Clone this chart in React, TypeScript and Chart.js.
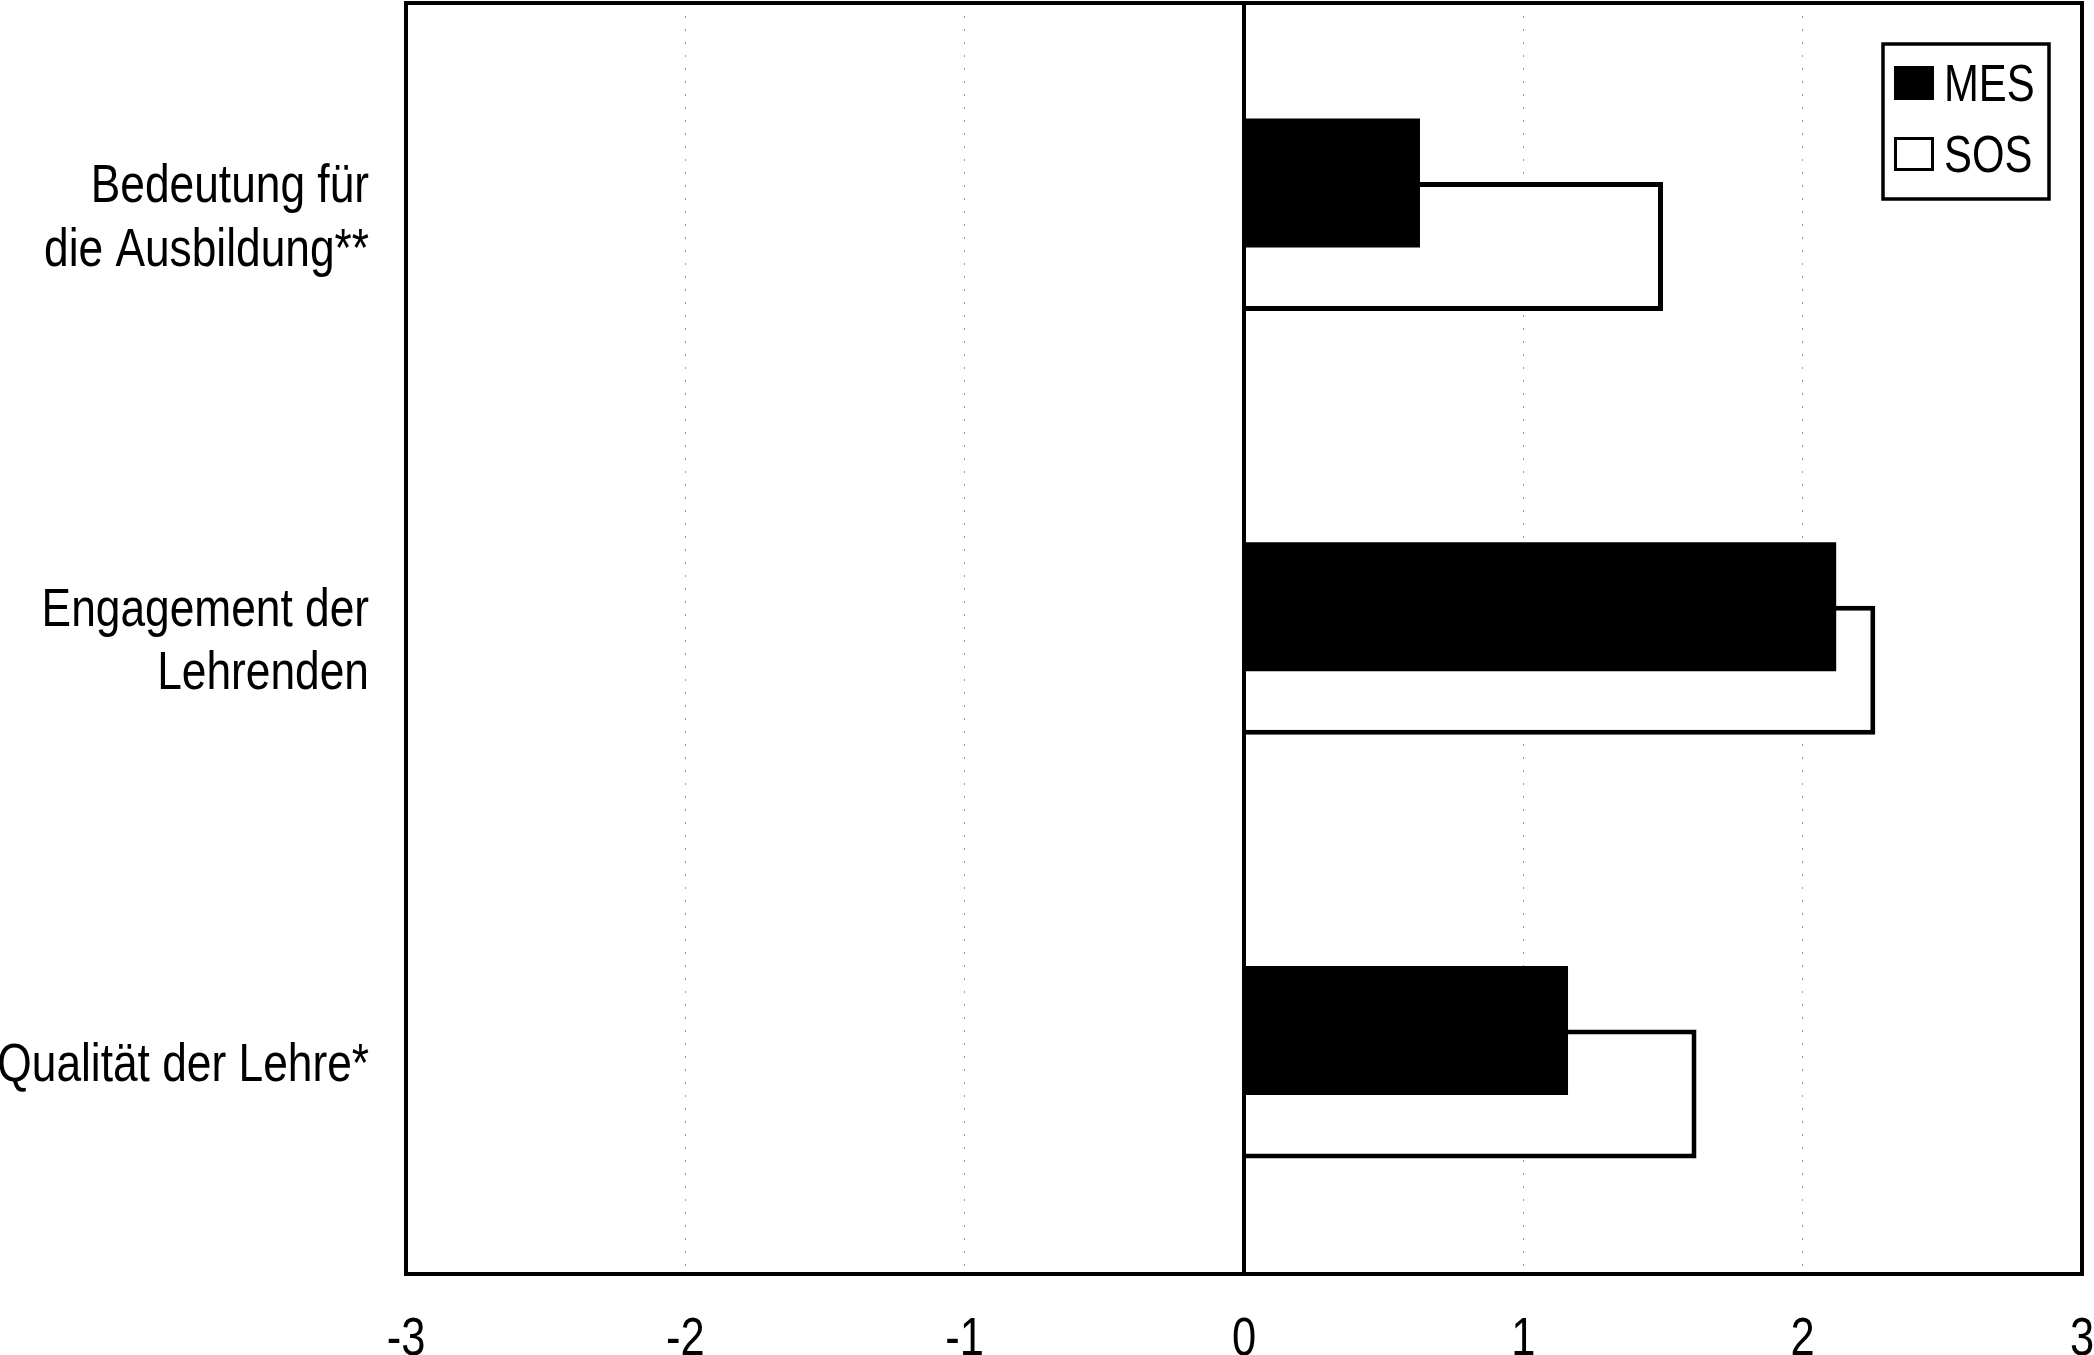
import React, { useEffect, useRef } from "react";
import { Chart, registerables } from "chart.js";

Chart.register(...registerables);

// ---- data ----
const categories: string[][] = [
  ["Bedeutung für", "die Ausbildung**"],
  ["Engagement der", "Lehrenden"],
  ["Qualität der Lehre*"],
];
const seriesNames = ["MES", "SOS"];
const mesValues = [0.63, 2.12, 1.16];
const sosValues = [1.5, 2.26, 1.62];
const xTickValues = [-3, -2, -1, 0, 1, 2, 3];

const FONT = "'Liberation Sans', Arial, sans-serif";
const NARROW = 0.82; // Arial Narrow look: Arial glyphs squeezed horizontally
const TEXT_DY = 4; // Arial Narrow sits slightly lower than Arial at 'middle'

const narrowTextPlugin = {
  id: "narrowText",
  beforeDraw(chart: any) {
    const ctx = chart.ctx;
    if (ctx.__narrowPatched) return;
    const orig = ctx.fillText.bind(ctx);
    ctx.fillText = (text: string, x: number, y: number, maxWidth?: number) => {
      ctx.save();
      ctx.translate(x, y + TEXT_DY);
      ctx.scale(NARROW, 1);
      if (maxWidth !== undefined) orig(text, 0, 0, maxWidth / NARROW);
      else orig(text, 0, 0);
      ctx.restore();
    };
    ctx.__narrowPatched = true;
  },
};

const framePlugin = {
  id: "frameAndZero",
  afterDatasetsDraw(chart: any) {
    const { ctx, chartArea: a, scales } = chart;
    const x0 = scales.x.getPixelForValue(0);
    ctx.save();
    ctx.strokeStyle = "#000";
    ctx.lineWidth = 4;
    ctx.beginPath();
    ctx.moveTo(x0, a.top);
    ctx.lineTo(x0, a.bottom);
    ctx.stroke();
    ctx.lineWidth = 4;
    ctx.strokeRect(a.left, a.top, a.right - a.left, a.bottom - a.top);
    ctx.restore();
  },
};

const legendPlugin = {
  id: "boxLegend",
  afterDraw(chart: any) {
    const { ctx, chartArea: a } = chart;
    const boxW = 166;
    const boxH = 155;
    const left = a.right - 199;
    const top = a.top + 41;
    ctx.save();
    ctx.fillStyle = "#fff";
    ctx.fillRect(left, top, boxW, boxH);
    ctx.strokeStyle = "#000";
    ctx.lineWidth = 3.5;
    ctx.strokeRect(left, top, boxW, boxH);
    ctx.font = `51px ${FONT}`;
    ctx.textBaseline = "alphabetic";
    ctx.textAlign = "left";
    chart.data.datasets.forEach((ds: any, i: number) => {
      const rowTop = top + 22 + i * 71;
      const sqX = left + 11;
      const sqW = 40;
      const sqH = 34;
      ctx.fillStyle = ds.backgroundColor;
      ctx.fillRect(sqX, rowTop, sqW, sqH);
      if (ds.borderWidth && ds.borderWidth > 0) {
        ctx.lineWidth = 3;
        ctx.strokeStyle = ds.borderColor;
        ctx.strokeRect(sqX + 1.5, rowTop + 1.5, sqW - 3, sqH - 3);
      }
      ctx.fillStyle = "#000";
      ctx.fillText(ds.label, left + 61, rowTop + sqH - TEXT_DY + 1);
    });
    ctx.restore();
  },
};

export default function App() {
  const canvasRef = useRef<HTMLCanvasElement | null>(null);

  useEffect(() => {
    if (!canvasRef.current) return;
    const chart = new Chart(canvasRef.current, {
      type: "bar",
      data: {
        labels: categories as any,
        datasets: [
          {
            label: seriesNames[0],
            data: mesValues,
            backgroundColor: "#000000",
            borderColor: "#000000",
            borderWidth: 0,
            categoryPercentage: 0.3,
            barPercentage: 2.03,
          },
          {
            label: seriesNames[1],
            data: sosValues,
            backgroundColor: "#ffffff",
            borderColor: "#000000",
            borderWidth: 5,
            categoryPercentage: 0.3,
            barPercentage: 2.03,
          },
        ],
      },
      options: {
        indexAxis: "y",
        animation: false,
        responsive: false,
        devicePixelRatio: 1,
        layout: { padding: { top: 3, right: 12, bottom: 0, left: 0 } },
        plugins: {
          legend: { display: false },
          tooltip: { enabled: false },
        },
        scales: {
          x: {
            type: "linear",
            position: "bottom",
            min: -3,
            max: 3,
            afterBuildTicks: (s: any) => {
              s.ticks = xTickValues.map((v) => ({ value: v }));
            },
            afterFit: (s: any) => {
              s.height = 81;
              s.paddingLeft = 0;
              s.paddingRight = 0;
            },
            grid: {
              drawTicks: false,
              lineWidth: 1,
              color: (ctx: any) => {
                const v = ctx.tick ? ctx.tick.value : 0;
                return v === 0 || v === -3 || v === 3 ? "rgba(0,0,0,0)" : "#9a9a9a";
              },
            },
            border: { display: false, dash: [2, 11] },
            ticks: {
              autoSkip: false,
              maxRotation: 0,
              padding: 31,
              color: "#000",
              font: { family: FONT, size: 53, lineHeight: 1.2 },
              callback: (v: any) => String(v),
            },
          },
          y: {
            type: "category",
            afterFit: (s: any) => {
              s.width = 406;
              s.paddingTop = 0;
              s.paddingBottom = 0;
            },
            grid: { display: false, drawTicks: false },
            border: { display: false },
            ticks: {
              padding: 37,
              color: "#000",
              font: { family: FONT, size: 54, lineHeight: 1.18 },
            },
          },
        },
      } as any,
      plugins: [narrowTextPlugin, framePlugin, legendPlugin],
    });
    return () => chart.destroy();
  }, []);

  return (
    <div style={{ position: "fixed", left: 0, top: 0, width: 2094, height: 1355, background: "#fff" }}>
      <canvas ref={canvasRef} width={2094} height={1355} style={{ width: 2094, height: 1355, display: "block" }} />
    </div>
  );
}
